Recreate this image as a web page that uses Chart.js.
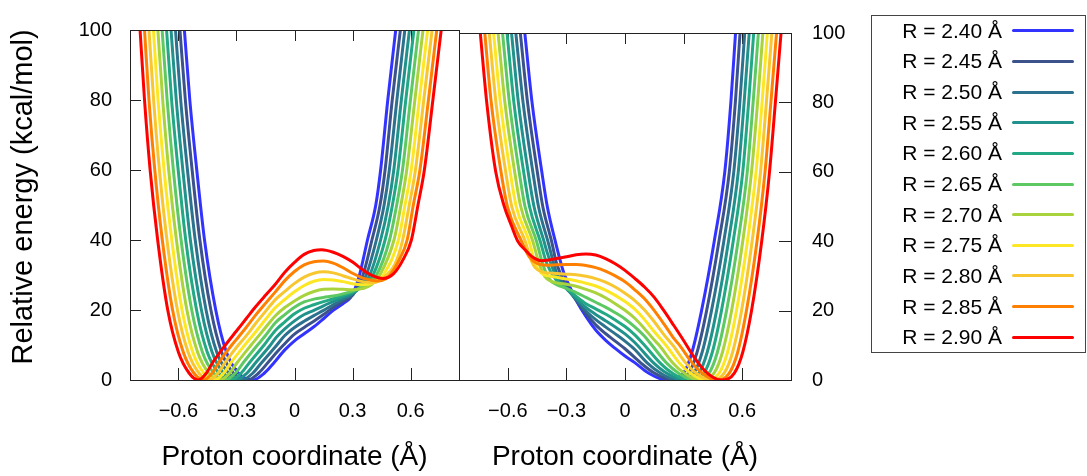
<!DOCTYPE html>
<html><head><meta charset="utf-8">
<script src="https://cdn.jsdelivr.net/npm/chart.js@4.4.1/dist/chart.umd.min.js"></script>
<style>
body{margin:0;background:#fff;}
#wrap{position:relative;width:1087px;height:476px;overflow:hidden;font-family:"Liberation Sans",Arial,sans-serif;background:#fff;}
canvas{position:absolute;top:0;}
#legendBox{position:absolute;left:871px;top:15px;width:215px;height:338px;border:1px solid #444;box-sizing:border-box;}
.lt{position:absolute;left:850px;width:152px;text-align:right;font-size:21px;line-height:24px;height:24px;color:#000;white-space:nowrap;}
.ll{position:absolute;left:1012px;width:62px;height:3px;border-radius:1.5px;}
</style>
</head><body>
<div id="wrap">
<canvas id="cL" width="460" height="476" style="left:0px"></canvas>
<canvas id="cR" width="400" height="476" style="left:459px"></canvas>
<div id="legendBox"></div>
</div>
<script>
// ---- data: [proton coordinate (Å), relative energy (kcal/mol)] ----
const rLabels = ['R = 2.40 Å','R = 2.45 Å','R = 2.50 Å','R = 2.55 Å','R = 2.60 Å','R = 2.65 Å','R = 2.70 Å','R = 2.75 Å','R = 2.80 Å','R = 2.85 Å','R = 2.90 Å'];
const colors = ['#3333ff','#3b528b','#2c718e','#21918c','#22a884','#5ec962','#a9d33c','#fde725','#f8c62f','#ff8000','#ff0000'];
const xTickValues = [-0.6,-0.3,0,0.3,0.6];
const yTickValues = [0,20,40,60,80,100];

// left panel
const L240 = [[-0.569,100],[-0.541,80],[-0.505,60],[-0.465,40],[-0.407,20],[-0.352,8],[-0.290,2],[-0.215,0],[-0.155,2],[-0.105,5],[-0.05,8.6],[0,11.2],[0.05,13.2],[0.1,15.2],[0.15,17.5],[0.2,19.9],[0.25,21.8],[0.287,23.4],[0.312,26],[0.336,30],[0.377,40],[0.42,50],[0.445,60],[0.482,80],[0.523,100]];
const L245 = [[-0.592,100],[-0.564,80],[-0.529,60],[-0.489,40],[-0.432,20],[-0.377,8],[-0.316,2],[-0.243,0],[-0.185,2],[-0.137,5],[-0.1,7.4],[-0.057,10],[0,13.1],[0.05,15.0],[0.1,16.8],[0.15,18.7],[0.2,20.7],[0.25,22.4],[0.3,24.2],[0.328,27],[0.354,30],[0.400,40],[0.442,50],[0.468,60],[0.505,80],[0.547,100]];
const L250 = [[-0.615,100],[-0.588,80],[-0.553,60],[-0.513,40],[-0.457,20],[-0.402,8],[-0.341,2],[-0.271,0],[-0.215,2],[-0.169,5],[-0.091,10],[-0.05,12.7],[0,15.0],[0.05,16.8],[0.1,18.4],[0.15,19.9],[0.2,21.5],[0.25,23.0],[0.3,24.5],[0.34,26.8],[0.371,30],[0.423,40],[0.463,50],[0.490,60],[0.529,80],[0.570,100]];
const L255 = [[-0.638,100],[-0.611,80],[-0.577,60],[-0.538,40],[-0.481,20],[-0.426,8],[-0.367,2],[-0.300,0],[-0.245,2],[-0.200,5],[-0.124,10],[-0.1,11.8],[-0.05,14.6],[0,16.9],[0.05,18.7],[0.1,19.9],[0.15,21.2],[0.2,22.4],[0.25,23.6],[0.3,24.8],[0.35,27.0],[0.389,30],[0.445,40],[0.485,50],[0.513,60],[0.552,80],[0.594,100]];
const L260 = [[-0.661,100],[-0.635,80],[-0.601,60],[-0.562,40],[-0.506,20],[-0.451,8],[-0.392,2],[-0.328,0],[-0.275,2],[-0.232,5],[-0.157,10],[-0.1,14.1],[-0.05,16.6],[0,18.9],[0.05,20.5],[0.1,21.5],[0.15,22.4],[0.2,23.2],[0.25,24.2],[0.3,25.1],[0.35,26.7],[0.38,28.2],[0.406,30],[0.468,40],[0.506,50],[0.535,60],[0.575,80],[0.617,100]];
const L265 = [[-0.684,100],[-0.658,80],[-0.626,60],[-0.586,40],[-0.531,20],[-0.476,8],[-0.418,2],[-0.356,0],[-0.305,2],[-0.264,5],[-0.191,10],[-0.15,12.7],[-0.1,16.3],[-0.05,18.7],[0,20.8],[0.05,22.3],[0.1,23.1],[0.15,23.6],[0.2,24.0],[0.25,24.6],[0.3,25.4],[0.35,26.6],[0.39,28.2],[0.424,30],[0.491,40],[0.528,50],[0.558,60],[0.599,80],[0.641,100]];
const L270 = [[-0.706,100],[-0.681,80],[-0.650,60],[-0.610,40],[-0.556,20],[-0.501,8],[-0.443,2],[-0.384,0],[-0.335,2],[-0.296,5],[-0.224,10],[-0.2,11.6],[-0.15,15.0],[-0.1,18.3],[-0.05,20.7],[0,22.6],[0.05,24.2],[0.1,25.3],[0.15,25.9],[0.2,26.0],[0.25,25.9],[0.3,25.8],[0.35,26.1],[0.4,27.3],[0.441,30],[0.514,40],[0.550,50],[0.580,60],[0.622,80],[0.664,100]];
const L275 = [[-0.729,100],[-0.705,80],[-0.674,60],[-0.634,40],[-0.581,20],[-0.526,8],[-0.469,2],[-0.412,0],[-0.365,2],[-0.328,5],[-0.257,10],[-0.2,13.8],[-0.15,17.3],[-0.1,20.6],[-0.05,23.0],[0,25.2],[0.05,27.0],[0.1,28.2],[0.15,28.7],[0.2,28.6],[0.25,28.1],[0.3,27.5],[0.35,27.2],[0.4,27.6],[0.44,28.9],[0.459,30],[0.537,40],[0.571,50],[0.603,60],[0.645,80],[0.688,100]];
const L280 = [[-0.752,100],[-0.728,80],[-0.698,60],[-0.659,40],[-0.605,20],[-0.550,8],[-0.494,2],[-0.441,0],[-0.395,2],[-0.359,5],[-0.290,10],[-0.25,12.6],[-0.2,16.2],[-0.15,19.6],[-0.1,22.9],[-0.05,25.3],[0,27.6],[0.05,29.4],[0.1,30.5],[0.15,30.9],[0.2,30.6],[0.25,29.8],[0.3,28.9],[0.35,28.1],[0.4,27.8],[0.44,28.4],[0.476,30],[0.52,33.2],[0.559,40],[0.593,50],[0.625,60],[0.668,80],[0.711,100]];
const L285 = [[-0.775,100],[-0.752,80],[-0.722,60],[-0.683,40],[-0.630,20],[-0.575,8],[-0.520,2],[-0.469,0],[-0.425,2],[-0.391,5],[-0.324,10],[-0.3,11.6],[-0.25,15.0],[-0.2,18.6],[-0.15,21.9],[-0.1,25.1],[-0.05,28.4],[0,31.0],[0.05,32.9],[0.1,33.8],[0.15,34.0],[0.2,33.4],[0.25,32.1],[0.3,30.5],[0.35,29.2],[0.4,28.5],[0.43,28.3],[0.47,28.9],[0.494,30],[0.54,34.2],[0.582,40],[0.614,50],[0.648,60],[0.692,80],[0.735,100]];
const L290 = [[-0.798,100],[-0.775,80],[-0.746,60],[-0.707,40],[-0.655,20],[-0.600,8],[-0.545,2],[-0.497,0],[-0.455,2],[-0.423,5],[-0.357,10],[-0.3,14.0],[-0.25,17.5],[-0.2,21.0],[-0.15,24.2],[-0.1,27.3],[-0.05,30.8],[0,33.6],[0.05,35.9],[0.1,37.0],[0.14,37.2],[0.2,36.5],[0.25,35.3],[0.3,33.7],[0.35,31.6],[0.4,29.9],[0.458,29.0],[0.511,30.3],[0.561,34.4],[0.604,40],[0.638,50],[0.671,60],[0.715,80],[0.758,100]];

// right panel
const R240 = [[-0.513,100],[-0.476,80],[-0.426,60],[-0.398,50],[-0.357,40],[-0.317,31.5],[-0.3,29.0],[-0.275,25.9],[-0.25,23.0],[-0.2,18.3],[-0.15,14.4],[-0.1,11.5],[-0.05,9.1],[0,6.9],[0.05,5.0],[0.12,2],[0.212,0],[0.30,2],[0.343,8],[0.392,20],[0.457,40],[0.511,60],[0.542,80],[0.566,100]];
const R245 = [[-0.536,100],[-0.499,80],[-0.449,60],[-0.421,50],[-0.376,40],[-0.35,33.5],[-0.3,27.3],[-0.25,23.0],[-0.2,19.1],[-0.15,15.9],[-0.1,13.4],[-0.05,11.2],[0,9.0],[0.079,5],[0.15,2],[0.240,0],[0.326,2],[0.369,8],[0.418,20],[0.481,40],[0.534,60],[0.565,80],[0.589,100]];
const R250 = [[-0.559,100],[-0.522,80],[-0.472,60],[-0.443,50],[-0.395,40],[-0.35,30.8],[-0.3,26.6],[-0.25,23.2],[-0.2,19.9],[-0.15,17.4],[-0.1,15.3],[-0.05,13.3],[0,11.2],[0.05,8.8],[0.112,5],[0.181,2],[0.268,0],[0.352,2],[0.395,8],[0.443,20],[0.506,40],[0.557,60],[0.588,80],[0.613,100]];
const R255 = [[-0.581,100],[-0.546,80],[-0.496,60],[-0.466,50],[-0.415,40],[-0.4,37.0],[-0.35,29.5],[-0.3,26.3],[-0.25,23.5],[-0.2,20.9],[-0.15,18.9],[-0.1,17.1],[-0.05,15.3],[0,13.3],[0.05,10.8],[0.145,5],[0.212,2],[0.297,0],[0.378,2],[0.421,8],[0.469,20],[0.530,40],[0.580,60],[0.610,80],[0.636,100]];
const R260 = [[-0.604,100],[-0.569,80],[-0.519,60],[-0.489,50],[-0.434,40],[-0.4,33.5],[-0.35,28.6],[-0.3,26.4],[-0.25,24.1],[-0.2,22.0],[-0.15,20.5],[-0.1,19.0],[-0.05,17.3],[0,15.4],[0.05,13.0],[0.10,10],[0.178,5],[0.242,2],[0.325,0],[0.404,2],[0.447,8],[0.494,20],[0.554,40],[0.603,60],[0.633,80],[0.659,100]];
const R265 = [[-0.627,100],[-0.592,80],[-0.542,60],[-0.512,50],[-0.453,40],[-0.42,33.2],[-0.39,29.2],[-0.35,27.5],[-0.3,26.4],[-0.25,25.2],[-0.2,23.8],[-0.15,22.4],[-0.1,21.0],[-0.05,19.4],[0,17.6],[0.05,15.3],[0.1,12.6],[0.138,10],[0.211,5],[0.273,2],[0.353,0],[0.430,2],[0.473,8],[0.520,20],[0.579,40],[0.626,60],[0.656,80],[0.683,100]];
const R270 = [[-0.650,100],[-0.615,80],[-0.565,60],[-0.534,50],[-0.472,40],[-0.44,33.6],[-0.41,29.8],[-0.38,28.5],[-0.34,27.9],[-0.3,27.6],[-0.25,27.0],[-0.2,26.1],[-0.15,25.1],[-0.1,23.7],[-0.05,22.0],[0,20.1],[0.05,17.8],[0.1,14.8],[0.15,11.5],[0.175,10],[0.244,5],[0.303,2],[0.381,0],[0.456,2],[0.499,8],[0.546,20],[0.603,40],[0.648,60],[0.679,80],[0.706,100]];
const R275 = [[-0.673,100],[-0.638,80],[-0.588,60],[-0.557,50],[-0.491,40],[-0.46,33.6],[-0.43,30.9],[-0.4,30.1],[-0.35,29.6],[-0.3,29.1],[-0.25,28.6],[-0.2,27.9],[-0.15,27.1],[-0.1,25.9],[-0.05,24.4],[0,22.6],[0.05,20.4],[0.1,17.4],[0.15,13.9],[0.21,10],[0.277,5],[0.334,2],[0.409,0],[0.482,2],[0.525,8],[0.571,20],[0.627,40],[0.671,60],[0.702,80],[0.729,100]];
const R280 = [[-0.695,100],[-0.661,80],[-0.611,60],[-0.580,50],[-0.511,40],[-0.485,35.2],[-0.46,32.4],[-0.42,31.1],[-0.35,30.7],[-0.3,30.5],[-0.25,30.3],[-0.2,29.9],[-0.15,29.2],[-0.1,28.2],[-0.05,26.8],[0,25.0],[0.05,22.9],[0.1,20.2],[0.15,16.8],[0.2,13.0],[0.245,10],[0.31,5],[0.364,2],[0.438,0],[0.508,2],[0.551,8],[0.597,20],[0.651,40],[0.694,60],[0.724,80],[0.752,100]];
const R285 = [[-0.718,100],[-0.685,80],[-0.635,60],[-0.602,50],[-0.530,40],[-0.49,35.5],[-0.45,33.6],[-0.4,33.1],[-0.35,33.2],[-0.3,33.3],[-0.25,33.3],[-0.2,33.0],[-0.15,32.4],[-0.1,31.4],[-0.05,30.0],[0,28.3],[0.05,26.0],[0.1,23.4],[0.15,20.0],[0.2,16.1],[0.25,12.0],[0.28,10],[0.343,5],[0.395,2],[0.466,0],[0.534,2],[0.577,8],[0.622,20],[0.676,40],[0.717,60],[0.747,80],[0.776,100]];
const R290 = [[-0.741,100],[-0.708,80],[-0.662,60],[-0.618,50],[-0.583,44.7],[-0.549,40],[-0.506,37.2],[-0.47,35.3],[-0.43,34.4],[-0.39,34.6],[-0.35,35.0],[-0.3,35.5],[-0.25,36.1],[-0.2,36.3],[-0.15,36.0],[-0.1,35.0],[-0.05,33.5],[0,31.6],[0.05,29.3],[0.1,26.8],[0.15,23.8],[0.2,19.9],[0.25,15.7],[0.3,11.4],[0.35,6.9],[0.4,3.2],[0.45,0.8],[0.494,0],[0.56,2],[0.603,8],[0.648,20],[0.70,40],[0.74,60],[0.77,80],[0.799,100]];

const leftSeries = [L240,L245,L250,L255,L260,L265,L270,L275,L280,L285,L290];
const rightSeries = [R240,R245,R250,R255,R260,R265,R270,R275,R280,R285,R290];

// ---- rendering ----
const FONT = '"Liberation Sans", Arial, Helvetica, sans-serif';
Chart.defaults.font.family = FONT;
Chart.defaults.color = '#000';
const X_MIN = -0.85, X_MAX = 0.85;
const frameColor = '#222';

function fmtX(v){ if (Math.abs(v) < 1e-9) return '0'; return (v < 0 ? '\u2212' : '') + Math.abs(v).toFixed(1); }

function datasets(series){
  return series.map((s, i) => ({
    label: rLabels[i],
    data: s.map(p => ({x: p[0], y: p[1]})),
    borderColor: colors[i],
    borderWidth: 3,
    pointRadius: 0,
    fill: false,
    cubicInterpolationMode: 'monotone',
    clip: 0,
    order: series.length - 1 - i
  }));
}

const framePlugin = {
  id: 'frame',
  beforeDatasetsDraw(chart, args, opts) {
    const {ctx, chartArea: a} = chart;
    const xs = chart.scales.x, ys = chart.scales.y;
    ctx.save();
    ctx.strokeStyle = frameColor; ctx.lineWidth = 1;
    ctx.beginPath();
    xTickValues.forEach(v => {
      const p = Math.round(xs.getPixelForValue(v)) + 0.5;
      ctx.moveTo(p, a.bottom); ctx.lineTo(p, a.bottom - 12);
      ctx.moveTo(p, a.top); ctx.lineTo(p, a.top + 11);
    });
    yTickValues.forEach(v => {
      const p = Math.round(ys.getPixelForValue(v)) + 0.5;
      if (opts.side === 'left') { ctx.moveTo(a.left, p); ctx.lineTo(a.left + 11, p); }
      else { ctx.moveTo(a.right, p); ctx.lineTo(a.right - 12, p); }
    });
    ctx.stroke();
    ctx.restore();
  },
  afterDatasetsDraw(chart) {
    const {ctx, chartArea: a} = chart;
    ctx.save();
    ctx.strokeStyle = frameColor; ctx.lineWidth = 1;
    const l = Math.round(a.left), t = Math.round(a.top), r = Math.round(a.right), b = Math.round(a.bottom);
    ctx.strokeRect(l + 0.5, t + 0.5, r - l, b - t);
    ctx.restore();
  }
};

function xScale(){
  return {
    type: 'linear', min: X_MIN, max: X_MAX,
    afterBuildTicks: s => { s.ticks = xTickValues.map(v => ({value: v})); },
    ticks: { callback: v => fmtX(v), padding: 19, font: {size: 20}, color: '#000', autoSkip: false, maxRotation: 0, minRotation: 0 },
    grid: { display: false, drawTicks: false },
    border: { display: false },
    title: { display: true, text: 'Proton coordinate (Å)', font: {size: 28}, color: '#000', padding: {top: 0, bottom: 2} },
    afterFit: s => { s.height = 96; }
  };
}

function yScale(side){
  const o = {
    type: 'linear', min: 0, max: 100, position: side,
    afterBuildTicks: s => { s.ticks = yTickValues.map(v => ({value: v})); },
    ticks: { callback: v => String(v), padding: side === 'left' ? 18 : 21, font: {size: 20}, color: '#000' },
    grid: { display: false, drawTicks: false },
    border: { display: false },
    afterFit: s => { s.width = side === 'left' ? 130 : 68; }
  };
  if (side === 'left') {
    // two leading spaces lift the visible text slightly above the axis centre, as in the reference
    o.title = { display: true, text: '  Relative energy (kcal/mol)', font: {size: 29}, color: '#000', padding: {top: 7, bottom: 0} };
  }
  return o;
}

function makeChart(id, series, side, padding){
  return new Chart(document.getElementById(id), {
    type: 'line',
    data: { datasets: datasets(series) },
    options: {
      responsive: false, animation: false, devicePixelRatio: 1,
      layout: { padding: padding, autoPadding: false },
      plugins: { legend: {display: false}, tooltip: {enabled: false}, frame: {side: side} },
      scales: { x: xScale(), y: yScale(side) },
      events: []
    },
    plugins: [framePlugin]
  });
}

makeChart('cL', leftSeries, 'left', {top: 22, right: 1, bottom: 0, left: 0});
makeChart('cR', rightSeries, 'right', {top: 22, right: 0, bottom: 0, left: 0});

// ---- legend (text left of line, inside a box) ----
const wrap = document.getElementById('wrap');
rLabels.forEach((lab, k) => {
  const cy = 30.7 + 30.66 * k;
  const t = document.createElement('div');
  t.className = 'lt'; t.textContent = lab; t.style.top = (cy - 12) + 'px';
  wrap.appendChild(t);
  const l = document.createElement('div');
  l.className = 'll'; l.style.background = colors[k]; l.style.top = (cy - 1.5) + 'px';
  wrap.appendChild(l);
});
</script>
</body></html>
